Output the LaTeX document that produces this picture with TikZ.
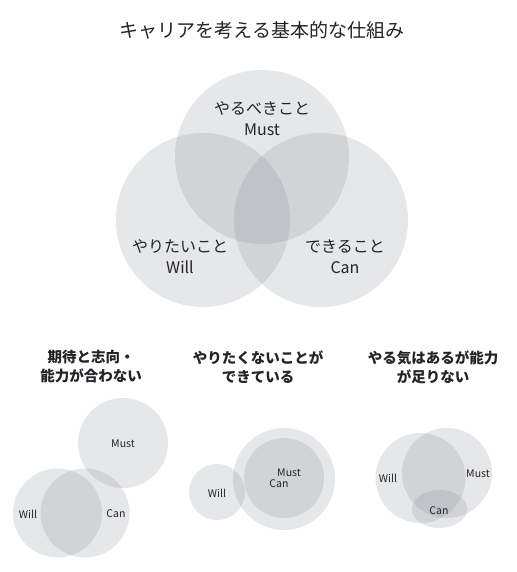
\documentclass[tikz,border=0pt]{standalone}
\usepackage{fontspec}
\usepackage{xcolor}
\usepackage{tikz}
\setmainfont{Noto Sans CJK JP}
\definecolor{vennfill}{RGB}{118,122,132}
\definecolor{inkgray}{RGB}{35,35,40}

\begin{document}
\begin{tikzpicture}[x=1pt,y=-1pt]
\tikzstyle{every node}+=[inner sep=0pt,text=inkgray,align=center]
\tikzstyle{venn}=[fill=vennfill,fill opacity=0.18,draw=none]
\tikzstyle{biglabel}=[font=\fontsize{16}{21}\selectfont]
\tikzstyle{smalltitle}=[font=\fontsize{14.5}{19}\selectfont\bfseries]
\tikzstyle{smalllabel}=[font=\fontsize{10.5}{12}\selectfont]
\useasboundingbox (0,0) rectangle (516,572);
\node (title) at (262,30) {\fontsize{19}{24}\selectfont キャリアを考える基本的な仕組み};
% main diagram
\fill [venn] (262,157) circle (87);
\fill [venn] (203,220) circle (87);
\fill [venn] (321,220) circle (87);
\node [biglabel] (must) at (262,119) {やるべきこと\\Must};
\node [biglabel] (will) at (180,257) {やりたいこと\\Will};
\node [biglabel] (can) at (345,257) {できること\\Can};
% case 1
\node [smalltitle] (t1) at (91,367) {期待と志向・\\能力が合わない};
\fill [venn] (123,443) circle (45);
\fill [venn] (57.5,513) circle (44.5);
\fill [venn] (85,513) circle (44.5);
\node [smalllabel] (must1) at (123,444) {Must};
\node [smalllabel] (will1) at (28,514) {Will};
\node [smalllabel] (can1) at (116,514) {Can};
% case 2
\node [smalltitle] (t2) at (258,367) {やりたくないことが\\できている};
\fill [venn] (217,492) circle (28);
\fill [venn] (284,479) circle (51);
\fill [venn] (284,478) circle (40);
\node [smalllabel] (must2) at (289,473) {Must};
\node [smalllabel] (can2) at (279,484) {Can};
\node [smalllabel] (will2) at (217,493) {Will};
% case 3
\node [smalltitle] (t3) at (433,367) {やる気はあるが能力\\が足りない};
\fill [venn] (420.5,478) circle (45);
\fill [venn] (447,473) circle (45);
\fill [venn] (439.5,509) ellipse (27.5 and 19);
\node [smalllabel] (will3) at (388,478) {Will};
\node [smalllabel] (must3) at (478,474) {Must};
\node [smalllabel] (can3) at (439,511) {Can};
\end{tikzpicture}
\end{document}
